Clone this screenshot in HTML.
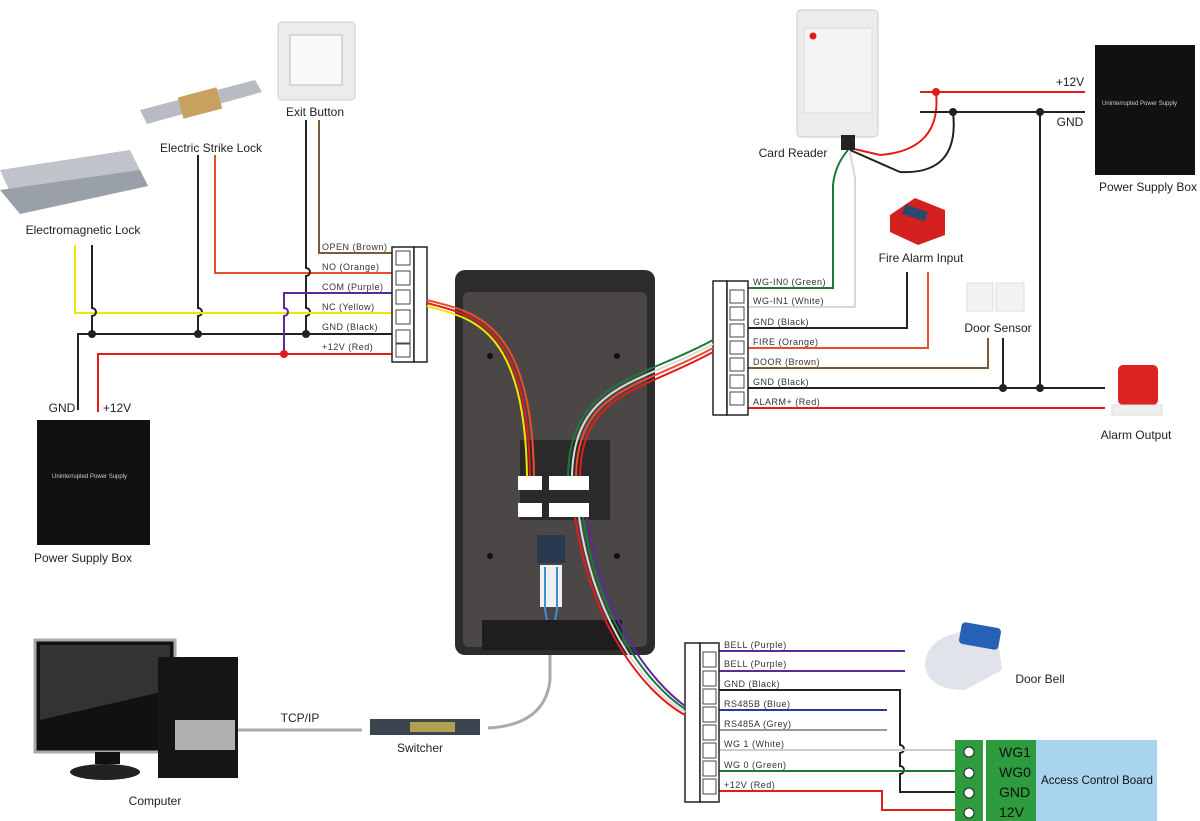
<!DOCTYPE html>
<html><head><meta charset="utf-8"><style>
html,body{margin:0;padding:0;background:#fff}
svg{display:block}
text{font-family:"Liberation Sans",sans-serif}
.lb{font-size:12px;fill:#222}
.sm{font-size:9px;fill:#333;letter-spacing:0.5px}
</style></head><body>
<svg width="1200" height="821" viewBox="0 0 1200 821" xmlns="http://www.w3.org/2000/svg">
<g fill="none" stroke-width="2">
<path d="M319 120 V253 H392" stroke="#7a5a3a"/>
<path d="M215 155 V273 H392" stroke="#e8502a"/>
<path d="M306 120 V268 a4 4 0 0 1 0 8 V308 a4 4 0 0 1 0 8 V334" stroke="#222"/>
<path d="M198 155 V308 a4 4 0 0 1 0 8 V334" stroke="#222"/>
<path d="M75 245 V313 H392" stroke="#f2e600"/>
<path d="M92 245 V308 a4 4 0 0 1 0 8 V334" stroke="#222"/>
<path d="M78 410 V334 H392" stroke="#222"/>
<path d="M98 412 V354 H392" stroke="#e31b1b"/>
<path d="M392 293 H284 V308 a4 4 0 0 1 0 8 V354" stroke="#5b2a9a"/>
<path d="M748 288 H833 V185 Q835 165 848 150" stroke="#1a7a3a"/>
<path d="M748 307 H855 V178 L850 152" stroke="#d8d8d8"/>
<path d="M748 328 H907 V272" stroke="#222"/>
<path d="M748 348 H928 V272" stroke="#e8502a"/>
<path d="M748 368 H988 V338" stroke="#7a5a3a"/>
<path d="M748 388 H1105 M1003 338 V388 M1040 112 V388" stroke="#222"/>
<path d="M748 408 H1105" stroke="#e31b1b"/>
<path d="M920 92 H1085 M936 92 Q942 150 880 155 L850 148" stroke="#e31b1b"/>
<path d="M920 112 H1085 M953 112 Q960 175 900 172 L850 150" stroke="#222"/>
<path d="M719 651 H905 M719 671 H905" stroke="#5b2a9a"/>
<path d="M719 690 H900 V745 a4 4 0 0 1 0 8 V766 a4 4 0 0 1 0 8 V792 H955" stroke="#222"/>
<path d="M719 710 H887" stroke="#2a3a9a"/>
<path d="M719 730 H887" stroke="#999"/>
<path d="M719 750 H955" stroke="#ccc"/>
<path d="M719 771 H955" stroke="#1a7a3a"/>
<path d="M719 791 H882 V810 H955" stroke="#e31b1b"/>
<path d="M237 730 H362" stroke="#aaa" stroke-width="3"/>
<path d="M488 728 Q545 725 550 680 L550 620" stroke="#aaa" stroke-width="3"/>
</g>
<g fill="#222">
<circle cx="92" cy="334" r="4"/><circle cx="198" cy="334" r="4"/><circle cx="306" cy="334" r="4"/>
<circle cx="284" cy="354" r="4" fill="#e31b1b"/>
<circle cx="1003" cy="388" r="4"/><circle cx="1040" cy="388" r="4"/>
<circle cx="936" cy="92" r="4" fill="#e31b1b"/><circle cx="953" cy="112" r="4"/><circle cx="1040" cy="112" r="4"/>
</g>
<g fill="#fff" stroke="#222" stroke-width="1.5">
<rect x="392" y="247" width="22" height="115"/><rect x="414" y="247" width="13" height="115"/>
<rect x="713" y="281" width="14" height="134"/><rect x="727" y="281" width="21" height="134"/>
<rect x="685" y="643" width="15" height="159"/><rect x="700" y="643" width="19" height="159"/>
</g>
<g fill="none" stroke="#444" stroke-width="1">
<rect x="396" y="251" width="14" height="14"/><rect x="396" y="271" width="14" height="14"/><rect x="396" y="290" width="14" height="14"/><rect x="396" y="310" width="14" height="14"/><rect x="396" y="330" width="14" height="14"/><rect x="396" y="343" width="14" height="14"/>
<rect x="730" y="290" width="14" height="13"/><rect x="730" y="307" width="14" height="13"/><rect x="730" y="324" width="14" height="13"/><rect x="730" y="341" width="14" height="13"/><rect x="730" y="358" width="14" height="13"/><rect x="730" y="375" width="14" height="13"/><rect x="730" y="392" width="14" height="13"/>
<rect x="703" y="652" width="13" height="15"/><rect x="703" y="671" width="13" height="15"/><rect x="703" y="689" width="13" height="15"/><rect x="703" y="707" width="13" height="15"/><rect x="703" y="725" width="13" height="15"/><rect x="703" y="743" width="13" height="15"/><rect x="703" y="761" width="13" height="15"/><rect x="703" y="779" width="13" height="15"/>
</g>
<g class="sm">
<text x="322" y="250">OPEN (Brown)</text><text x="322" y="270">NO (Orange)</text><text x="322" y="290">COM (Purple)</text><text x="322" y="310">NC (Yellow)</text><text x="322" y="330">GND (Black)</text><text x="322" y="350">+12V (Red)</text>
<text x="753" y="285">WG-IN0 (Green)</text><text x="753" y="304">WG-IN1 (White)</text><text x="753" y="325">GND (Black)</text><text x="753" y="345">FIRE (Orange)</text><text x="753" y="365">DOOR (Brown)</text><text x="753" y="385">GND (Black)</text><text x="753" y="405">ALARM+ (Red)</text>
<text x="724" y="648">BELL (Purple)</text><text x="724" y="667">BELL (Purple)</text><text x="724" y="687">GND (Black)</text><text x="724" y="707">RS485B (Blue)</text><text x="724" y="727">RS485A (Grey)</text><text x="724" y="747">WG 1 (White)</text><text x="724" y="768">WG 0 (Green)</text><text x="724" y="788">+12V (Red)</text>
</g>
<rect x="455" y="270" width="200" height="385" rx="10" fill="#2c2c2e"/>
<rect x="463" y="292" width="184" height="355" rx="6" fill="#4a4746"/>
<rect x="520" y="440" width="90" height="80" fill="#2a2a2a"/>
<rect x="518" y="476" width="24" height="14" fill="#fff"/><rect x="549" y="476" width="40" height="14" fill="#fff"/>
<rect x="518" y="503" width="24" height="14" fill="#fff"/><rect x="549" y="503" width="40" height="14" fill="#fff"/>
<rect x="537" y="535" width="28" height="28" fill="#2a3850"/>
<rect x="540" y="565" width="22" height="42" fill="#f0f0f0"/>
<path d="M545 567 V610 L551 640 L557 610 V567" fill="none" stroke="#3b8fd6" stroke-width="2"/>
<circle cx="490" cy="356" r="3" fill="#111"/><circle cx="617" cy="356" r="3" fill="#111"/><circle cx="490" cy="556" r="3" fill="#111"/><circle cx="617" cy="556" r="3" fill="#111"/>
<rect x="482" y="620" width="140" height="30" fill="#1e1e1e"/>
<g fill="none" stroke-width="2">
<path d="M427 303 C470 315 528 320 530 476" stroke="#e31b1b"/>
<path d="M427 306 C468 318 525 323 527 476" stroke="#f2e600"/>
<path d="M427 300 C472 312 532 318 534 476" stroke="#e8502a"/>
<path d="M713 340 C640 380 570 380 568 476" stroke="#1a7a3a"/>
<path d="M713 344 C640 384 574 384 572 476" stroke="#ddd"/>
<path d="M713 348 C640 388 578 388 576 476" stroke="#e8502a"/>
<path d="M713 352 C640 392 582 392 580 476" stroke="#e31b1b"/>
<path d="M575 517 C590 620 640 690 685 715" stroke="#e31b1b"/>
<path d="M579 517 C594 620 644 688 685 712" stroke="#ddd"/>
<path d="M583 517 C598 620 648 685 685 709" stroke="#1a7a3a"/>
<path d="M587 517 C602 620 652 682 685 706" stroke="#5b2a9a"/>
</g>
<rect x="278" y="22" width="77" height="78" rx="4" fill="#ececec" stroke="#ccc"/>
<rect x="290" y="35" width="52" height="50" fill="#f8f8f8" stroke="#bbb"/>
<path d="M140 110 L255 80 L262 92 L147 124 Z" fill="#b8bcc2"/>
<rect x="180" y="92" width="40" height="22" fill="#c8a060" transform="rotate(-15 200 103)"/>
<path d="M0 170 L130 150 L148 186 L20 214 Z" fill="#c0c4ca"/>
<path d="M0 190 L140 170 L148 186 L20 214 Z" fill="#9aa0a8"/>
<rect x="37" y="420" width="113" height="125" fill="#111"/>
<text x="52" y="478" fill="#ccc" font-size="6">Uninterrupted Power Supply</text>
<rect x="797" y="10" width="81" height="127" rx="4" fill="#ececec" stroke="#ccc"/>
<rect x="804" y="28" width="68" height="85" fill="#f4f4f4" stroke="#ddd"/>
<circle cx="813" cy="36" r="3.5" fill="#e31b1b"/>
<rect x="841" y="135" width="14" height="15" fill="#222"/>
<rect x="1095" y="45" width="100" height="130" fill="#111"/>
<text x="1102" y="105" fill="#ccc" font-size="6">Uninterrupted Power Supply</text>
<path d="M890 215 L915 198 L945 210 L945 235 L918 245 L890 232 Z" fill="#d4201e"/>
<rect x="903" y="208" width="24" height="10" fill="#2a4a70" transform="rotate(18 915 213)"/>
<rect x="967" y="283" width="26" height="28" fill="#f2f2f2" stroke="#ddd"/><rect x="996" y="283" width="28" height="28" fill="#f2f2f2" stroke="#ddd"/>
<rect x="1118" y="365" width="40" height="40" rx="5" fill="#dd2222"/>
<rect x="1112" y="405" width="50" height="10" fill="#eee" stroke="#ddd"/>
<path d="M925 665 Q925 640 960 632 L998 640 L1002 670 L965 690 Q928 690 925 665Z" fill="#e0e4ea"/>
<rect x="960" y="625" width="40" height="22" rx="4" fill="#2860b8" transform="rotate(10 980 636)"/>
<rect x="955" y="740" width="28" height="81" fill="#2e9b3e"/>
<rect x="986" y="740" width="50" height="81" fill="#2e9b3e"/>
<rect x="1036" y="740" width="121" height="81" fill="#a8d4ee"/>
<g fill="#fff" stroke="#222" stroke-width="1"><circle cx="969" cy="752" r="5"/><circle cx="969" cy="773" r="5"/><circle cx="969" cy="793" r="5"/><circle cx="969" cy="813" r="5"/></g>
<g font-size="14" fill="#111"><text x="999" y="757">WG1</text><text x="999" y="777">WG0</text><text x="999" y="797">GND</text><text x="999" y="817">12V</text></g>
<text x="1097" y="784" text-anchor="middle" font-size="12" fill="#111" textLength="112" lengthAdjust="spacingAndGlyphs">Access Control Board</text>
<rect x="35" y="640" width="140" height="112" fill="#111" stroke="#aaa" stroke-width="3"/>
<path d="M40 645 H170 V690 L40 720 Z" fill="#333"/>
<rect x="95" y="752" width="25" height="12" fill="#111"/>
<ellipse cx="105" cy="772" rx="35" ry="8" fill="#222"/>
<rect x="158" y="657" width="80" height="121" fill="#151515"/>
<rect x="175" y="720" width="60" height="30" fill="#b0b0b0"/>
<rect x="370" y="719" width="110" height="16" fill="#3c4450"/>
<rect x="410" y="722" width="45" height="10" fill="#b0a050"/>
<g class="lb" text-anchor="middle">
<text x="315" y="116">Exit Button</text>
<text x="211" y="152">Electric Strike Lock</text>
<text x="83" y="234">Electromagnetic Lock</text>
<text x="83" y="562">Power Supply Box</text>
<text x="793" y="157">Card Reader</text>
<text x="1148" y="191">Power Supply Box</text>
<text x="921" y="262">Fire Alarm Input</text>
<text x="998" y="332">Door Sensor</text>
<text x="1136" y="439">Alarm Output</text>
<text x="1040" y="683">Door Bell</text>
<text x="155" y="805">Computer</text>
<text x="420" y="752">Switcher</text>
<text x="300" y="722">TCP/IP</text>
<text x="62" y="412">GND</text>
<text x="117" y="412">+12V</text>
<text x="1070" y="86">+12V</text>
<text x="1070" y="126">GND</text>
</g>
</svg>
</body></html>
